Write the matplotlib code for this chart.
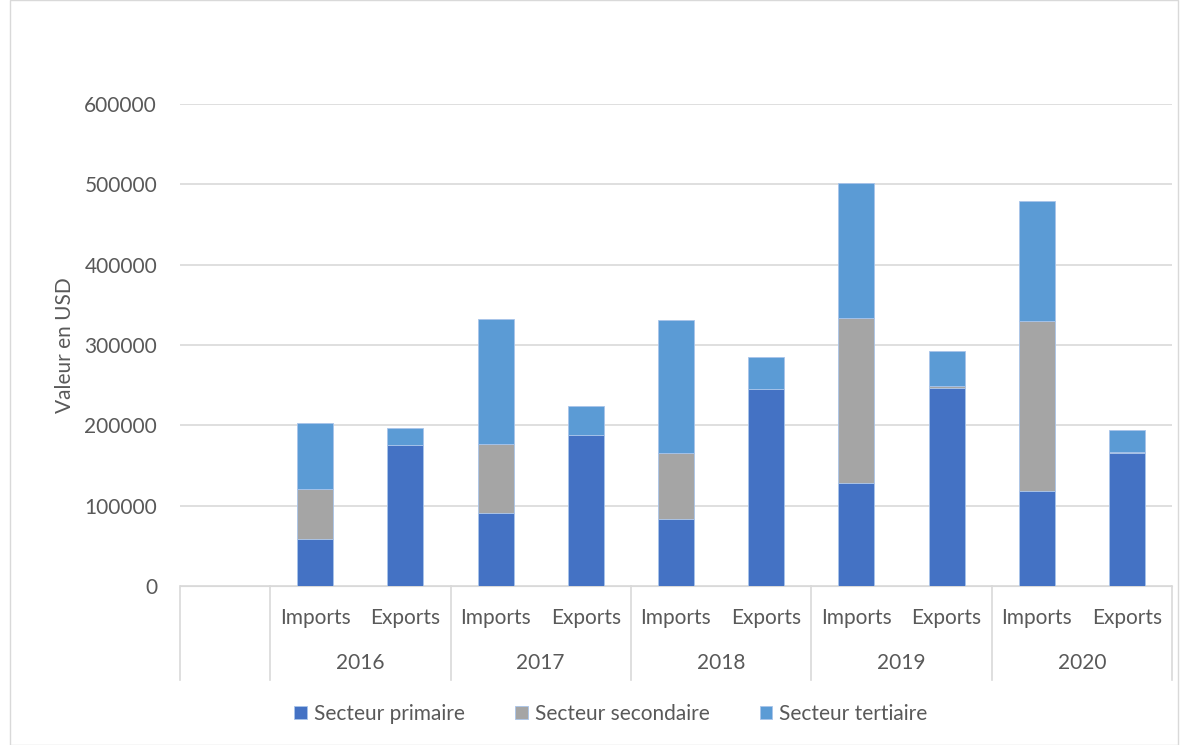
import matplotlib.pyplot as plt
import matplotlib.patches as mpatches
import numpy as np

plt.rcParams['font.family'] = ['Lato', 'DejaVu Sans']

years = ['2016', '2017', '2018', '2019', '2020']
flows = ['Imports', 'Exports']
primaire = [58000, 176000, 91000, 188000, 83000, 245000, 128000, 247000, 118000, 165000]
secondaire = [63000, 0, 86000, 0, 82000, 0, 206000, 2000, 212000, 2000]
tertiaire = [82000, 21000, 155000, 36000, 166000, 40000, 168000, 44000, 149000, 27000]

colors = ['#4472C4', '#A5A5A5', '#5B9BD5']
names = ['Secteur primaire', 'Secteur secondaire', 'Secteur tertiaire']
txt = '#595959'
fs = 15

fig = plt.figure(figsize=(11.88, 7.45), dpi=100)
fig.patches.append(mpatches.Rectangle((10 / 1188, 0), 1 - 20 / 1188, 1, transform=fig.transFigure,
                                      fill=False, edgecolor='#d9d9d9', linewidth=1))
ax = fig.add_axes([180 / 1188, 159 / 745, 992 / 1188, 482 / 745])

# first slot is an empty category
x = np.arange(1, 11)
bottom = np.zeros(10)
handles = []
for vals, c, n in zip([primaire, secondaire, tertiaire], colors, names):
    b = ax.bar(x, vals, 0.4, bottom=bottom, color=c, edgecolor='#a9c4ea', linewidth=0.6, label=n, zorder=3)
    handles.append(b)
    bottom += np.array(vals)

ax.set_xlim(-0.5, 10.5)
ax.set_ylim(0, 600000)
ax.set_yticks(np.arange(0, 600001, 100000))
ax.set_yticklabels([str(v) for v in range(0, 600001, 100000)], fontsize=fs, color=txt)
ax.tick_params(axis='y', length=0, pad=16.5)
ax.grid(axis='y', color='#d9d9d9', linewidth=1.2, zorder=0)
for s in ['top', 'right', 'left']:
    ax.spines[s].set_visible(False)
ax.spines['bottom'].set_color('#d9d9d9')
ax.set_xticks([])
ax.set_ylabel('Valeur en USD', fontsize=fs, color=txt, labelpad=7)

# multi-level category axis
tr = ax.get_xaxis_transform()
for xv in [-0.5, 0.5, 2.5, 4.5, 6.5, 8.5, 10.5]:
    ax.plot([xv, xv], [0, -0.195], transform=tr, color='#d9d9d9', linewidth=1.2, clip_on=False)
for i, xv in enumerate(x):
    ax.text(xv, -0.066, flows[i % 2], transform=tr, ha='center', va='center', fontsize=fs, color=txt)
for i, y in enumerate(years):
    ax.text(1.5 + 2 * i, -0.16, y, transform=tr, ha='center', va='center', fontsize=fs, color=txt)

fig.legend(handles=handles, labels=names, loc='center', bbox_to_anchor=(611 / 1188, 1 - 714 / 745),
           ncol=3, frameon=False, fontsize=fs, labelcolor=txt, handlelength=0.6, handleheight=0.6,
           handletextpad=0.35, columnspacing=2.4)

fig.savefig('out.png', dpi=100)
